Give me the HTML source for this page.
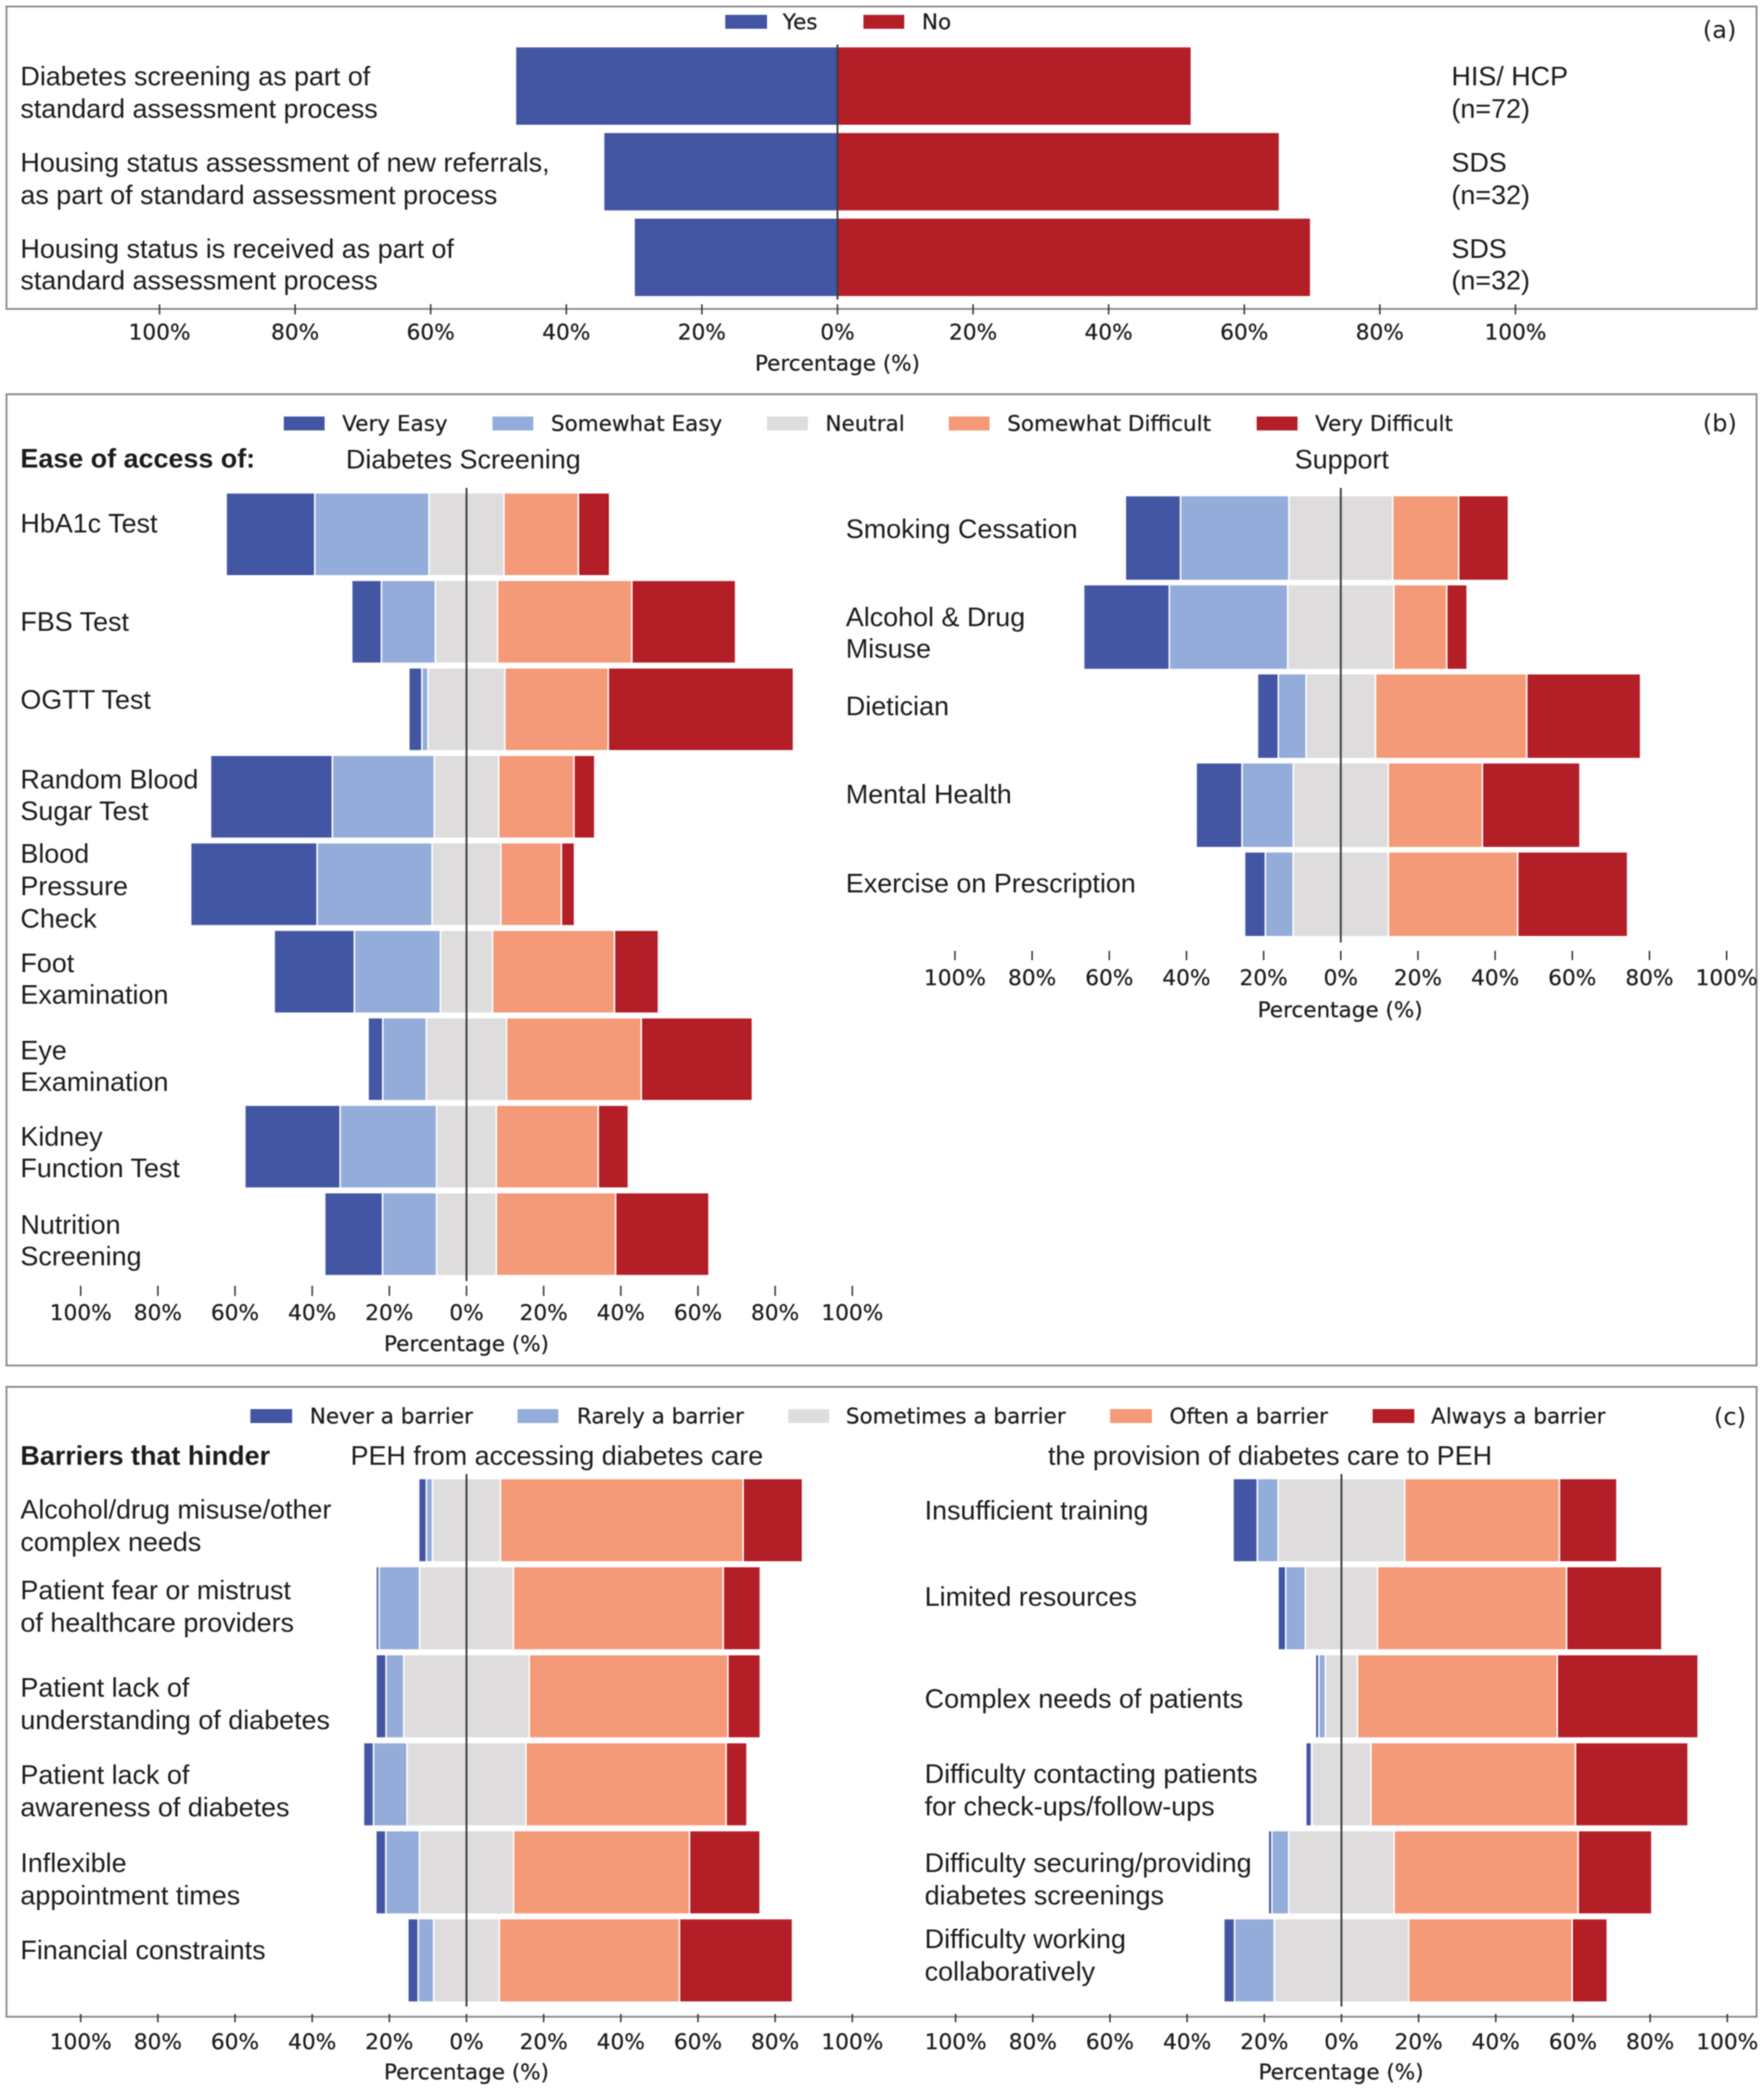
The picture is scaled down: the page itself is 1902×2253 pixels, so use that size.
<!DOCTYPE html>
<html lang="en">
<head>
<meta charset="utf-8">
<title>Diabetes care survey diverging bar charts</title>
<style>
html,body{margin:0;padding:0;background:#fff;}
svg{display:block;filter:blur(.55px);}
text{fill:#1c1c1c;}
.lab{font:29px "Liberation Sans",Arial,sans-serif;dominant-baseline:central;}
.bold{font:bold 29px "Liberation Sans",Arial,sans-serif;dominant-baseline:central;}
.leg{font:23.2px "DejaVu Sans",sans-serif;dominant-baseline:central;stroke:#1c1c1c;stroke-width:.25;}
.tag{font:26px "DejaVu Sans",sans-serif;dominant-baseline:central;}
.tick{font:23.4px "DejaVu Sans",sans-serif;dominant-baseline:central;text-anchor:middle;stroke:#1c1c1c;stroke-width:.25;}
.xt{font:23.2px "DejaVu Sans",sans-serif;dominant-baseline:central;text-anchor:middle;stroke:#1c1c1c;stroke-width:.25;}
.frame{fill:none;stroke:#8c8c8c;stroke-width:2;}
</style>
</head>
<body>
<svg id="fig" xmlns="http://www.w3.org/2000/svg" width="1902" height="2253" viewBox="0 0 1902 2253">
  <rect class="frame" x="7" y="7" width="1887" height="326"/>
  <rect class="frame" x="7" y="425" width="1887" height="1047"/>
  <rect class="frame" x="7" y="1495" width="1887" height="679"/>

  <g id="marks"></g>

  <!-- Panel a -->
  <g>
    <rect x="782" y="16" width="45" height="15" fill="#4356a3"/>
    <text class="leg" x="844" y="24">Yes</text>
    <rect x="931" y="16" width="44" height="15" fill="#b31e27"/>
    <text class="leg" x="994" y="24">No</text>
  </g>
  <text class="tag" x="1836" y="33">(a)</text>
  <g>
    <text class="lab" x="22" y="83">Diabetes screening as part of</text>
    <text class="lab" x="22" y="118">standard assessment process</text>
    <text class="lab" x="22" y="176">Housing status assessment of new referrals,</text>
    <text class="lab" x="22" y="211">as part of standard assessment process</text>
    <text class="lab" x="22" y="269">Housing status is received as part of</text>
    <text class="lab" x="22" y="303">standard assessment process</text>
  </g>
  <g>
    <text class="lab" x="1565" y="83">HIS/ HCP</text>
    <text class="lab" x="1565" y="118">(n=72)</text>
    <text class="lab" x="1565" y="176">SDS</text>
    <text class="lab" x="1565" y="211">(n=32)</text>
    <text class="lab" x="1565" y="269">SDS</text>
    <text class="lab" x="1565" y="303">(n=32)</text>
  </g>
  <text class="xt" x="903" y="392">Percentage (%)</text>

  <!-- Panel b -->
  <g>
    <rect x="306" y="449" width="44" height="15" fill="#4356a3"/>
    <text class="leg" x="369" y="457">Very Easy</text>
    <rect x="531" y="449" width="44" height="15" fill="#94acd9"/>
    <text class="leg" x="594" y="457">Somewhat Easy</text>
    <rect x="827" y="449" width="44" height="15" fill="#dedcdc"/>
    <text class="leg" x="890" y="457">Neutral</text>
    <rect x="1023" y="449" width="44" height="15" fill="#f49a78"/>
    <text class="leg" x="1086" y="457">Somewhat Difficult</text>
    <rect x="1355" y="449" width="44" height="15" fill="#b31e27"/>
    <text class="leg" x="1418" y="457">Very Difficult</text>
  </g>
  <text class="tag" x="1836" y="457">(b)</text>
  <text class="bold" x="22" y="495">Ease of access of:</text>
  <text class="lab" x="373" y="496">Diabetes Screening</text>
  <text class="lab" x="1396" y="496">Support</text>
  <g>
    <text class="lab" x="22" y="565">HbA1c Test</text>
    <text class="lab" x="22" y="671">FBS Test</text>
    <text class="lab" x="22" y="755">OGTT Test</text>
    <text class="lab" x="22" y="841">Random Blood</text>
    <text class="lab" x="22" y="875">Sugar Test</text>
    <text class="lab" x="22" y="921">Blood</text>
    <text class="lab" x="22" y="956">Pressure</text>
    <text class="lab" x="22" y="991">Check</text>
    <text class="lab" x="22" y="1039">Foot</text>
    <text class="lab" x="22" y="1073">Examination</text>
    <text class="lab" x="22" y="1133">Eye</text>
    <text class="lab" x="22" y="1167">Examination</text>
    <text class="lab" x="22" y="1226">Kidney</text>
    <text class="lab" x="22" y="1260">Function Test</text>
    <text class="lab" x="22" y="1321">Nutrition</text>
    <text class="lab" x="22" y="1355">Screening</text>
  </g>
  <g>
    <text class="lab" x="912" y="571">Smoking Cessation</text>
    <text class="lab" x="912" y="666">Alcohol &amp; Drug</text>
    <text class="lab" x="912" y="700">Misuse</text>
    <text class="lab" x="912" y="762">Dietician</text>
    <text class="lab" x="912" y="857">Mental Health</text>
    <text class="lab" x="912" y="953">Exercise on Prescription</text>
  </g>
  <text class="xt" x="503" y="1449">Percentage (%)</text>
  <text class="xt" x="1445" y="1089">Percentage (%)</text>

  <!-- Panel c -->
  <g>
    <rect x="270" y="1519" width="45" height="15" fill="#4356a3"/>
    <text class="leg" x="334" y="1527">Never a barrier</text>
    <rect x="558" y="1519" width="44" height="15" fill="#94acd9"/>
    <text class="leg" x="622" y="1527">Rarely a barrier</text>
    <rect x="850" y="1519" width="44" height="15" fill="#dedcdc"/>
    <text class="leg" x="912" y="1527">Sometimes a barrier</text>
    <rect x="1197" y="1519" width="45" height="15" fill="#f49a78"/>
    <text class="leg" x="1261" y="1527">Often a barrier</text>
    <rect x="1480" y="1519" width="45" height="15" fill="#b31e27"/>
    <text class="leg" x="1543" y="1527">Always a barrier</text>
  </g>
  <text class="tag" x="1848" y="1528">(c)</text>
  <text class="bold" x="22" y="1570">Barriers that hinder</text>
  <text class="lab" x="378" y="1570">PEH from accessing diabetes care</text>
  <text class="lab" x="1130" y="1570">the provision of diabetes care to PEH</text>
  <g>
    <text class="lab" x="22" y="1628">Alcohol/drug misuse/other</text>
    <text class="lab" x="22" y="1663">complex needs</text>
    <text class="lab" x="22" y="1715">Patient fear or mistrust</text>
    <text class="lab" x="22" y="1750">of healthcare providers</text>
    <text class="lab" x="22" y="1820">Patient lack of</text>
    <text class="lab" x="22" y="1855">understanding of diabetes</text>
    <text class="lab" x="22" y="1914">Patient lack of</text>
    <text class="lab" x="22" y="1949">awareness of diabetes</text>
    <text class="lab" x="22" y="2009">Inflexible</text>
    <text class="lab" x="22" y="2044">appointment times</text>
    <text class="lab" x="22" y="2103">Financial constraints</text>
  </g>
  <g>
    <text class="lab" x="997" y="1629">Insufficient training</text>
    <text class="lab" x="997" y="1722">Limited resources</text>
    <text class="lab" x="997" y="1832">Complex needs of patients</text>
    <text class="lab" x="997" y="1913">Difficulty contacting patients</text>
    <text class="lab" x="997" y="1948">for check-ups/follow-ups</text>
    <text class="lab" x="997" y="2009">Difficulty securing/providing</text>
    <text class="lab" x="997" y="2044">diabetes screenings</text>
    <text class="lab" x="997" y="2091">Difficulty working</text>
    <text class="lab" x="997" y="2126">collaboratively</text>
  </g>
  <text class="xt" x="503" y="2234">Percentage (%)</text>
  <text class="xt" x="1446" y="2234">Percentage (%)</text>
</svg>

<script>
// Axis ticks
const tickValues = [-100, -80, -60, -40, -20, 0, 20, 40, 60, 80, 100];
const tickLabels = ['100%', '80%', '60%', '40%', '20%', '0%', '20%', '40%', '60%', '80%', '100%'];

// Panel a
const aCategories = ['Diabetes screening', 'Housing status assessment', 'Housing status received'];
const aYes = [47.5, 34.5, 30];
const aNo = [52.2, 65.2, 69.8];

// Panel b, left: diabetes screening
const bLeftCategories = ['HbA1c Test', 'FBS Test', 'OGTT Test', 'Random Blood Sugar Test', 'Blood Pressure Check', 'Foot Examination', 'Eye Examination', 'Kidney Function Test', 'Nutrition Screening'];
const bLeftVeryEasy = [23, 7.7, 3.4, 31.6, 32.8, 20.8, 3.8, 24.7, 15];
const bLeftSomewhatEasy = [29.6, 14, 1.6, 26.4, 29.8, 22.3, 11.3, 25, 14];
const bLeftNeutral = [19.4, 16.1, 19.9, 16.7, 17.8, 13.5, 20.8, 15.5, 15.5];
const bLeftSomewhatDifficult = [19.3, 34.8, 26.8, 19.5, 15.7, 31.6, 34.9, 26.4, 30.9];
const bLeftVeryDifficult = [8.1, 26.9, 48, 5.4, 3.4, 11.4, 28.8, 7.8, 24.2];

// Panel b, right: support
const bRightCategories = ['Smoking Cessation', 'Alcohol and Drug Misuse', 'Dietician', 'Mental Health', 'Exercise on Prescription'];
const bRightVeryEasy = [14.3, 22.2, 5.4, 11.9, 5.4];
const bRightSomewhatEasy = [28.1, 30.7, 7.2, 13.3, 7.2];
const bRightNeutral = [26.9, 27.5, 18, 24.6, 24.7];
const bRightSomewhatDifficult = [17.1, 13.7, 39.2, 24.4, 33.5];
const bRightVeryDifficult = [12.9, 5.3, 29.5, 25.3, 28.5];

// Panel c, left: barriers for PEH
const cLeftCategories = ['Alcohol/drug misuse', 'Patient fear or mistrust', 'Lack of understanding', 'Lack of awareness', 'Inflexible appointment times', 'Financial constraints'];
const cLeftNever = [2, 0.8, 2.6, 2.6, 2.6, 2.7];
const cLeftRarely = [1.6, 10.5, 4.6, 8.7, 8.7, 4];
const cLeftSometimes = [17.6, 24.3, 32.5, 30.8, 24.4, 17];
const cLeftOften = [62.9, 54.4, 51.5, 51.9, 45.6, 46.7];
const cLeftAlways = [15.4, 9.6, 8.4, 5.4, 18.3, 29.3];

// Panel c, right: barriers to provision of care
const cRightCategories = ['Insufficient training', 'Limited resources', 'Complex needs', 'Difficulty contacting patients', 'Difficulty securing screenings', 'Difficulty working collaboratively'];
const cRightNever = [6.3, 2, 0.9, 1.5, 0.9, 2.8];
const cRightRarely = [5.4, 5.1, 1.7, 0.1, 4.4, 10.3];
const cRightSometimes = [32.8, 18.7, 8.3, 15.3, 27.3, 34.8];
const cRightOften = [40.1, 49, 51.8, 53, 47.7, 42.4];
const cRightAlways = [14.9, 24.7, 36.5, 29.2, 19.1, 9.1];

const SVG_NS = 'http://www.w3.org/2000/svg';
const marksRoot = document.getElementById('marks');
const seriesColors = ['#4356a3', '#94acd9', '#dedcdc', '#f49a78', '#b31e27'];

function slug(s) {
  return s.toLowerCase().replace(/[^a-z0-9]+/g, '-');
}

function drawSegment(parent, xScale, yCenter, barHeight, from, to, color, name) {
  const x0 = xScale(from);
  const x1 = xScale(to);
  const r = document.createElementNS(SVG_NS, 'rect');
  
  
  r.setAttribute('x', x0);
  r.setAttribute('y', yCenter - barHeight / 2);
  r.setAttribute('width', Math.max(x1 - x0, 0));
  r.setAttribute('height', barHeight);
  r.setAttribute('fill', color);
  r.setAttribute('stroke', '#ffffff');
  r.setAttribute('stroke-width', '1.6');
  parent.appendChild(r);
}

function drawAxis(parent, xScale, opts) {
  tickValues.forEach(function (v, i) {
    const t = document.createElementNS(SVG_NS, 'line');
    
    
    t.setAttribute('x1', xScale(v));
    t.setAttribute('x2', xScale(v));
    t.setAttribute('y1', opts.tickTop);
    t.setAttribute('y2', opts.tickBottom);
    t.setAttribute('stroke', '#333333');
    t.setAttribute('stroke-width', '1.6');
    parent.appendChild(t);
    const l = document.createElementNS(SVG_NS, 'text');
    
    
    l.setAttribute('class', 'tick');
    l.setAttribute('x', xScale(v));
    l.setAttribute('y', opts.labelY);
    l.textContent = tickLabels[i];
    parent.appendChild(l);
  });
}

function drawZeroLine(parent, xScale, opts) {
  const z = document.createElementNS(SVG_NS, 'line');
  
  
  z.setAttribute('x1', xScale(0));
  z.setAttribute('x2', xScale(0));
  z.setAttribute('y1', opts.axisTop);
  z.setAttribute('y2', opts.axisBottom);
  z.setAttribute('stroke', '#3c3c3c');
  z.setAttribute('stroke-width', '2');
  parent.appendChild(z);
}

function makeGroup(name) {
  const g = document.createElementNS(SVG_NS, 'g');
  
  
  marksRoot.appendChild(g);
  return g;
}

function drawLikert(categories, series, seriesNames, opts) {
  const g = makeGroup(opts.name);
  const xScale = function (v) { return opts.zero + v * opts.pxPerPct; };
  const yScale = function (i) { return opts.firstRow + i * opts.rowStep; };
  categories.forEach(function (cat, i) {
    const half = series[2][i] / 2;
    const a = -half - series[1][i] - series[0][i];
    const b = -half - series[1][i];
    const c = -half;
    const d = half;
    const e = half + series[3][i];
    const f = e + series[4][i];
    const stops = [a, b, c, d, e, f];
    for (let s = 0; s < 5; s++) {
      drawSegment(g, xScale, yScale(i), opts.barHeight, stops[s], stops[s + 1], seriesColors[s], 'bar-' + slug(cat) + '-' + seriesNames[s]);
    }
  });
  drawZeroLine(g, xScale, opts);
  drawAxis(g, xScale, opts);
}

function drawYesNo() {
  const opts = { name: 'panel-a', zero: 903, pxPerPct: 7.31, firstRow: 92.8, rowStep: 92.3, barHeight: 85, axisTop: 48, axisBottom: 323, tickTop: 328, tickBottom: 339, labelY: 358 };
  const g = makeGroup(opts.name);
  const xScale = function (v) { return opts.zero + v * opts.pxPerPct; };
  const yScale = function (i) { return opts.firstRow + i * opts.rowStep; };
  aCategories.forEach(function (cat, i) {
    drawSegment(g, xScale, yScale(i), opts.barHeight, -aYes[i], 0, seriesColors[0], 'bar-' + slug(cat) + '-yes');
    drawSegment(g, xScale, yScale(i), opts.barHeight, 0, aNo[i], seriesColors[4], 'bar-' + slug(cat) + '-no');
  });
  drawZeroLine(g, xScale, opts);
  drawAxis(g, xScale, opts);
}

drawYesNo();

drawLikert(bLeftCategories,
  [bLeftVeryEasy, bLeftSomewhatEasy, bLeftNeutral, bLeftSomewhatDifficult, bLeftVeryDifficult],
  ['very-easy', 'somewhat-easy', 'neutral', 'somewhat-difficult', 'very-difficult'],
  { name: 'panel-b-left', zero: 503, pxPerPct: 4.16, firstRow: 576, rowStep: 94.3, barHeight: 89.5, axisTop: 526, axisBottom: 1381, tickTop: 1386, tickBottom: 1397, labelY: 1415 });

drawLikert(bRightCategories,
  [bRightVeryEasy, bRightSomewhatEasy, bRightNeutral, bRightSomewhatDifficult, bRightVeryDifficult],
  ['very-easy', 'somewhat-easy', 'neutral', 'somewhat-difficult', 'very-difficult'],
  { name: 'panel-b-right', zero: 1445.7, pxPerPct: 4.16, firstRow: 580, rowStep: 96, barHeight: 91.5, axisTop: 526, axisBottom: 1016, tickTop: 1025, tickBottom: 1035, labelY: 1054 });

drawLikert(cLeftCategories,
  [cLeftNever, cLeftRarely, cLeftSometimes, cLeftOften, cLeftAlways],
  ['never', 'rarely', 'sometimes', 'often', 'always'],
  { name: 'panel-c-left', zero: 503, pxPerPct: 4.16, firstRow: 1638.8, rowStep: 94.9, barHeight: 90, axisTop: 1589, axisBottom: 2163, tickTop: 2171, tickBottom: 2180, labelY: 2201 });

drawLikert(cRightCategories,
  [cRightNever, cRightRarely, cRightSometimes, cRightOften, cRightAlways],
  ['never', 'rarely', 'sometimes', 'often', 'always'],
  { name: 'panel-c-right', zero: 1446.4, pxPerPct: 4.16, firstRow: 1638.8, rowStep: 94.9, barHeight: 90, axisTop: 1589, axisBottom: 2163, tickTop: 2171, tickBottom: 2180, labelY: 2201 });
</script>
</body>
</html>
